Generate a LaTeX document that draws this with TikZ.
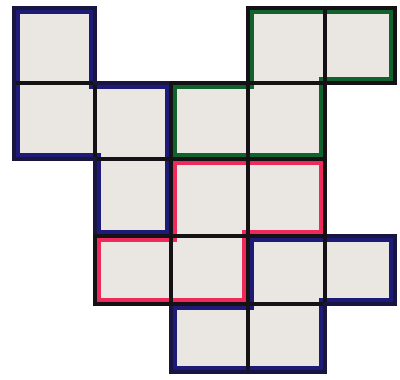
\documentclass[tikz,border=0pt]{standalone}
\definecolor{paper}{HTML}{EAE6E2}
\definecolor{navy}{HTML}{1E1A78}
\definecolor{pgreen}{HTML}{12622F}
\definecolor{pred}{HTML}{EE2A5C}
\definecolor{ink}{HTML}{141214}
\begin{document}
\begin{tikzpicture}[x=0.75pt,y=-0.75pt,
  band/.style={line width=9pt,line join=miter},
  gridline/.style={line width=2.4pt,draw=ink,line cap=round},
  pieceline/.style={line width=3.6pt,draw=ink,line join=round,line cap=round}]
\useasboundingbox (0,0) rectangle (400,379);
\fill[white] (0,0) rectangle (400,379);
\def\XA{14}\def\XB{95}\def\XC{171}\def\XD{248}\def\XE{325}\def\XF{395}
\def\YA{8}\def\YB{83}\def\YC{159}\def\YD{236}\def\YE{304}\def\YF{372}
\def\blueA{(\XA,\YA)--(\XB,\YA)--(\XB,\YB)--(\XC,\YB)--(\XC,\YD)--(\XB,\YD)--(\XB,\YC)--(\XA,\YC)--cycle}
\def\greenP{(\XD,\YA)--(\XF,\YA)--(\XF,\YB)--(\XE,\YB)--(\XE,\YC)--(\XC,\YC)--(\XC,\YB)--(\XD,\YB)--cycle}
\def\redP{(\XC,\YC)--(\XE,\YC)--(\XE,\YD)--(\XD,\YD)--(\XD,\YE)--(\XB,\YE)--(\XB,\YD)--(\XC,\YD)--cycle}
\def\blueB{(\XD,\YD)--(\XF,\YD)--(\XF,\YE)--(\XE,\YE)--(\XE,\YF)--(\XC,\YF)--(\XC,\YE)--(\XD,\YE)--cycle}
% fills
\fill[paper] \blueA; \fill[paper] \greenP; \fill[paper] \redP; \fill[paper] \blueB;
% coloured inner bands
\begin{scope}\clip \blueA; \draw[band,navy] \blueA; \end{scope}
\begin{scope}\clip \greenP; \draw[band,pgreen] \greenP; \end{scope}
\begin{scope}\clip \redP; \draw[band,pred] \redP; \end{scope}
\begin{scope}\clip \blueB; \draw[band,navy] \blueB; \end{scope}
% grid lines (cell edges)
\foreach \x/\y/\u/\v in {
  \XA/\YA/\XB/\YB, \XD/\YA/\XE/\YB, \XE/\YA/\XF/\YB,
  \XA/\YB/\XB/\YC, \XB/\YB/\XC/\YC, \XC/\YB/\XD/\YC, \XD/\YB/\XE/\YC,
  \XB/\YC/\XC/\YD, \XC/\YC/\XD/\YD, \XD/\YC/\XE/\YD,
  \XB/\YD/\XC/\YE, \XC/\YD/\XD/\YE, \XD/\YD/\XE/\YE, \XE/\YD/\XF/\YE,
  \XC/\YE/\XD/\YF, \XD/\YE/\XE/\YF}
  \draw[gridline] (\x,\y) rectangle (\u,\v);
% piece boundaries
\draw[pieceline,draw=navy!45!ink] \blueA;
\draw[pieceline,draw=navy!45!ink] \blueB;
\draw[pieceline] \greenP;
\draw[pieceline] \redP;
\end{tikzpicture}
\end{document}
